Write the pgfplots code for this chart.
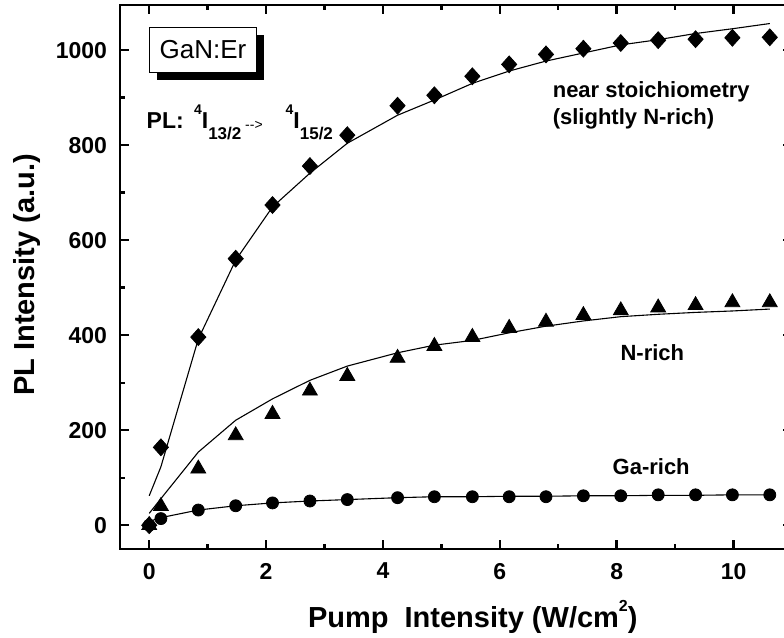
\documentclass[border=0pt]{standalone}
\usepackage{fontspec}
\setmainfont{Liberation Sans}
\usepackage{pgfplots}
\pgfplotsset{compat=1.18}
\usetikzlibrary{shadows}

\begin{document}
\begin{tikzpicture}
\begin{axis}[
  at={(0,0)}, anchor=south west,
  scale only axis, width=336pt, height=272pt,
  xmin=-0.5, xmax=11, ymin=-50, ymax=1095,
  xtick={0,2,...,10}, ytick={0,200,...,1000},
  minor x tick num=1, minor y tick num=1,
  tick align=inside,
  major tick length=4.5pt, minor tick length=2.5pt,
  every tick/.style={black, line width=1.2pt},
  axis line style={line width=1.4pt},
  /pgf/number format/1000 sep={},
  /pgf/number format/assume math mode=true,
  ticklabel style={font=\fontsize{11.5}{13}\selectfont\bfseries},
  xticklabel style={yshift=-3.5pt},
  yticklabel style={xshift=-3pt},
  xlabel={Pump\ \ Intensity (W/cm\raisebox{0.55em}{\fontsize{8}{9}\selectfont 2})},
  ylabel={PL Intensity (a.u.)},
  label style={font=\fontsize{14.5}{17}\selectfont\bfseries},
  xlabel style={at={(axis description cs:0.525,-0.145)}, anchor=base},
  ylabel style={at={(axis description cs:-0.139,0.504)}, anchor=center},
]
% fitted curves
\addplot[black, line width=0.55pt, no marks] coordinates {
  (0,62) (0.2,123) (0.84,392) (1.48,558) (2.11,670) (2.75,741) (3.39,804)
  (4.25,863) (4.88,895) (5.53,930) (6.16,956) (6.79,977) (7.43,994)
  (8.07,1011) (8.71,1022) (9.35,1035) (9.98,1045) (10.62,1056)
};
\addplot[black, line width=0.55pt, no marks] coordinates {
  (0,25) (0.2,56) (0.84,154) (1.48,221) (2.11,266) (2.75,305) (3.39,335)
  (4.25,363) (4.88,379) (5.53,389) (6.16,405) (6.79,419) (7.43,430)
  (8.07,439) (8.71,444) (9.35,448) (9.98,451) (10.62,455)
};
\addplot[black, line width=0.55pt, no marks] coordinates {
  (0,8) (0.2,16) (0.84,32) (1.48,41) (2.11,47) (2.75,51) (3.39,54)
  (4.25,58) (4.88,60) (5.53,60) (6.16,61) (6.79,61) (7.43,62)
  (8.07,62) (8.71,63) (9.35,63) (9.98,64) (10.62,64)
};
% Ga-rich
\addplot[only marks, mark=*, mark size=3pt, black] coordinates {
  (0,0) (0.2,14) (0.84,32) (1.48,41) (2.11,47) (2.75,51) (3.39,54)
  (4.25,58) (4.88,60) (5.53,60) (6.16,60) (6.79,60) (7.43,62)
  (8.07,62) (8.71,64) (9.35,64) (9.98,64) (10.62,64)
};
% N-rich
\addplot[only marks, mark=triangle*, mark size=4.3pt, black] coordinates {
  (0,0) (0.2,40) (0.84,119) (1.48,189) (2.11,234) (2.75,283) (3.39,314)
  (4.25,352) (4.88,377) (5.53,396) (6.16,415) (6.79,428) (7.43,442)
  (8.07,452) (8.71,458) (9.35,463) (9.98,469) (10.62,469)
};
% near stoichiometry
\addplot[only marks, mark=diamond*, mark size=4.2pt, mark options={xscale=1.2}, black] coordinates {
  (0,0) (0.2,164) (0.84,396) (1.48,561) (2.11,674) (2.75,756) (3.39,821)
  (4.25,883) (4.88,905) (5.53,945) (6.16,970) (6.79,991) (7.43,1003)
  (8.07,1015) (8.71,1021) (9.35,1023) (9.98,1026) (10.62,1027)
};

\node[draw, line width=0.6pt, fill=white, minimum width=53.5pt, minimum height=22.5pt,
  drop shadow={shadow xshift=4pt, shadow yshift=-4pt, fill=black, opacity=1},
  font=\fontsize{13}{15}\selectfont] at (axis cs:0.92,1001) {GaN:Er};
\node[anchor=base west, inner sep=0pt, font=\fontsize{11.5}{13}\selectfont\bfseries]
  at (axis cs:-0.05,836) {PL:\hspace{0.45em}\raisebox{0.6em}{\fontsize{7}{8}\selectfont 4}I\raisebox{-0.5em}{\fontsize{8.5}{9}\selectfont 13/2}\,\raisebox{-0.05em}{\fontsize{7}{8}\selectfont\mdseries -{}-{}>}\hspace{1em}\raisebox{0.6em}{\fontsize{7}{8}\selectfont 4}I\raisebox{-0.5em}{\fontsize{8.5}{9}\selectfont 15/2}};
\node[anchor=base west, inner sep=0pt, font=\fontsize{11}{13}\selectfont\bfseries]
  at (axis cs:6.90,901) {near stoichiometry};
\node[anchor=base west, inner sep=0pt, font=\fontsize{11}{13}\selectfont\bfseries]
  at (axis cs:6.90,844) {(slightly N-rich)};
\node[anchor=base, inner sep=0pt, font=\fontsize{11}{13}\selectfont\bfseries]
  at (axis cs:8.61,347) {N-rich};
\node[anchor=base, inner sep=0pt, font=\fontsize{11}{13}\selectfont\bfseries]
  at (axis cs:8.59,107) {Ga-rich};
\end{axis}
\pgfresetboundingbox
\path (-60pt,-44.5pt) rectangle (332pt,274.5pt);
\end{tikzpicture}
\end{document}
